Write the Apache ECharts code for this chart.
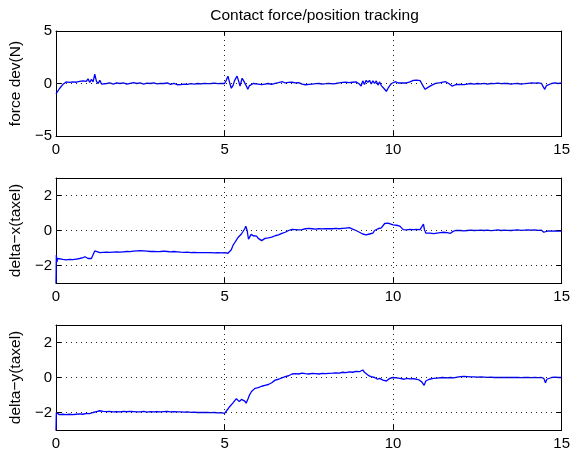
<!DOCTYPE html>
<html>
<head>
<meta charset="utf-8">
<script src="https://cdn.jsdelivr.net/npm/echarts@6/dist/echarts.min.js"></script>
<style>
html,body{margin:0;padding:0;background:#fff;}
#c{width:573px;height:459px;}
</style>
</head>
<body>
<div id="c"></div>
<script>
const titleText = 'Contact force/position tracking';
const yNames = ['force dev(N)', 'delta\u2212x(taxel)', 'delta\u2212y(taxel)'];
const xTicks = [0, 5, 10, 15];
const yLimits = [[-5, 5], [-3, 3], [-3, 3]];
const yTicks = [[-5, 0, 5], [-2, 0, 2], [-2, 0, 2]];

const forceDev = [
[0,-1.0],[0.05,-0.9],[0.1,-0.5],[0.15,-0.6],[0.2,-0.1],[0.25,0.05],[0.3,0.15],[0.4,0.1],[0.5,0.15],[0.6,0.12],
[0.7,0.2],[0.75,0.35],[0.8,0.25],[0.85,0.4],[0.9,0.2],[0.95,0.45],[1.0,0.1],[1.05,0.4],[1.1,0.15],[1.15,0.9],
[1.2,0.2],[1.25,0.0],[1.3,0.3],[1.35,-0.05],[1.4,0.1],[1.5,0.0],[1.6,0.05],[1.7,-0.05],[1.8,0.05],[1.9,0.0],
[2.0,0.05],[2.1,-0.05],[2.2,0.02],[2.3,0.08],[2.4,0.0],[2.5,0.05],[2.6,-0.05],[2.7,0.03],[2.8,0.0],[2.9,0.06],
[3.0,-0.03],[3.1,0.02],[3.2,0.0],[3.3,0.05],[3.4,-0.08],[3.5,0.02],[3.6,-0.12],[3.7,-0.1],[3.8,-0.05],[3.9,-0.08],
[4.0,-0.02],[4.1,-0.05],[4.2,0.0],[4.3,-0.03],[4.4,0.02],[4.5,-0.02],[4.6,0.0],[4.7,0.03],[4.8,-0.02],[4.9,0.0],
[5.0,0.0],[5.05,0.3],[5.1,0.7],[5.15,0.1],[5.2,-0.45],[5.25,-0.2],[5.3,0.3],[5.37,0.7],[5.42,0.2],[5.46,-0.25],
[5.52,0.5],[5.56,0.3],[5.6,0.15],[5.64,-0.2],[5.69,-0.55],[5.74,-0.2],[5.79,-0.05],[5.85,0.0],[5.9,-0.05],[6.0,-0.05],
[6.1,-0.1],[6.2,-0.05],[6.3,0.0],[6.4,-0.08],[6.5,0.02],[6.6,0.08],[6.65,-0.02],[6.72,0.17],[6.8,0.05],[6.9,0.1],
[7.0,0.12],[7.1,0.05],[7.2,0.08],[7.3,-0.05],[7.4,-0.12],[7.5,-0.08],[7.6,-0.05],[7.7,-0.02],[7.8,0.0],[7.9,-0.05],
[8.0,-0.02],[8.1,0.02],[8.2,-0.04],[8.3,0.0],[8.4,0.05],[8.5,0.1],[8.6,0.12],[8.7,0.08],[8.8,0.12],[8.9,0.15],
[9.0,-0.05],[9.05,-0.25],[9.1,0.25],[9.15,-0.1],[9.2,0.3],[9.25,0.1],[9.3,0.3],[9.35,-0.05],[9.4,0.25],[9.45,0.0],
[9.5,0.25],[9.55,-0.15],[9.6,0.15],[9.65,-0.2],[9.7,-0.35],[9.75,-0.55],[9.8,-0.75],[9.85,-0.45],[9.9,-0.2],[9.95,0.0],
[10.0,0.1],[10.08,0.17],[10.15,0.05],[10.2,0.15],[10.3,0.05],[10.4,0.05],[10.5,0.15],[10.6,0.3],[10.7,0.33],[10.8,0.28],
[10.85,0.1],[10.9,-0.3],[10.95,-0.55],[11.0,-0.6],[11.07,-0.3],[11.15,-0.15],[11.26,0.02],[11.4,0.08],[11.56,0.17],[11.65,0.0],
[11.75,-0.24],[11.85,-0.12],[11.95,-0.08],[12.0,-0.05],[12.1,-0.1],[12.2,-0.05],[12.3,0.0],[12.4,-0.05],[12.5,0.0],[12.6,-0.03],
[12.7,0.02],[12.8,-0.05],[12.9,0.0],[13.0,-0.02],[13.1,0.03],[13.2,-0.02],[13.3,0.02],[13.4,0.0],[13.5,-0.05],[13.6,-0.02],
[13.7,0.0],[13.8,-0.05],[13.9,-0.02],[14.0,0.02],[14.1,0.05],[14.2,0.03],[14.3,0.05],[14.4,0.02],[14.45,-0.3],[14.5,-0.55],
[14.55,-0.2],[14.6,-0.05],[14.7,0.0],[14.8,0.05],[14.9,0.0],[15.0,0.05]
];

const deltaX = [
[0,-3.0],[0.01,-1.4],[0.03,-1.8],[0.05,-1.6],[0.1,-1.7],[0.2,-1.65],[0.3,-1.68],[0.4,-1.65],[0.5,-1.66],[0.6,-1.63],
[0.7,-1.6],[0.8,-1.55],[0.86,-1.5],[0.9,-1.58],[0.95,-1.6],[1.0,-1.55],[1.05,-1.6],[1.1,-1.5],[1.15,-1.17],[1.2,-1.2],
[1.3,-1.27],[1.4,-1.25],[1.5,-1.24],[1.6,-1.25],[1.7,-1.23],[1.8,-1.22],[1.9,-1.24],[2.0,-1.22],[2.1,-1.2],[2.2,-1.21],
[2.3,-1.18],[2.4,-1.16],[2.5,-1.15],[2.6,-1.16],[2.7,-1.18],[2.8,-1.2],[2.9,-1.19],[3.0,-1.21],[3.1,-1.2],[3.2,-1.18],
[3.3,-1.2],[3.4,-1.22],[3.5,-1.2],[3.6,-1.22],[3.7,-1.24],[3.8,-1.25],[3.9,-1.24],[4.0,-1.26],[4.1,-1.25],[4.2,-1.27],
[4.3,-1.26],[4.4,-1.27],[4.5,-1.26],[4.6,-1.27],[4.7,-1.28],[4.8,-1.27],[4.9,-1.28],[5.0,-1.27],[5.1,-1.3],[5.15,-1.38],
[5.2,-1.1],[5.25,-0.85],[5.3,-0.7],[5.35,-0.55],[5.4,-0.4],[5.45,-0.35],[5.5,-0.2],[5.55,-0.1],[5.6,0.1],[5.63,0.25],
[5.67,0.0],[5.71,-0.5],[5.75,-0.35],[5.79,-0.22],[5.85,-0.3],[5.9,-0.28],[5.95,-0.32],[6.0,-0.45],[6.05,-0.52],[6.1,-0.58],
[6.15,-0.5],[6.2,-0.45],[6.3,-0.42],[6.4,-0.38],[6.5,-0.3],[6.6,-0.25],[6.7,-0.16],[6.8,-0.1],[6.9,0.0],[7.0,0.07],
[7.1,0.05],[7.2,0.03],[7.3,0.05],[7.4,0.1],[7.5,0.12],[7.6,0.1],[7.7,0.08],[7.8,0.1],[7.9,0.09],[8.0,0.1],
[8.1,0.11],[8.2,0.1],[8.3,0.12],[8.4,0.1],[8.5,0.12],[8.6,0.14],[8.7,0.16],[8.8,0.08],[8.9,0.0],[9.0,-0.1],
[9.1,-0.2],[9.2,-0.25],[9.3,-0.2],[9.4,-0.15],[9.45,0.0],[9.5,0.05],[9.55,0.1],[9.6,0.05],[9.65,0.15],[9.7,0.25],
[9.75,0.4],[9.8,0.5],[9.85,0.42],[9.9,0.35],[10.0,0.32],[10.1,0.3],[10.2,0.25],[10.25,0.2],[10.3,0.05],[10.4,0.04],
[10.5,0.06],[10.6,0.05],[10.7,0.07],[10.8,0.05],[10.85,0.1],[10.9,0.37],[10.93,0.05],[10.97,-0.15],[11.0,-0.2],[11.1,-0.15],
[11.2,-0.18],[11.3,-0.15],[11.4,-0.12],[11.5,-0.1],[11.6,-0.12],[11.7,-0.16],[11.78,-0.05],[11.85,0.0],[11.9,0.03],[12.0,0.0],
[12.1,-0.02],[12.2,0.0],[12.3,0.02],[12.4,0.0],[12.5,0.01],[12.6,0.02],[12.7,0.0],[12.8,0.02],[12.9,-0.01],[13.0,0.01],
[13.1,0.03],[13.2,0.0],[13.3,0.02],[13.4,0.01],[13.5,0.0],[13.6,0.02],[13.7,0.03],[13.8,0.01],[13.9,0.02],[14.0,0.03],
[14.1,0.02],[14.2,0.03],[14.3,0.01],[14.4,0.02],[14.47,-0.1],[14.5,0.0],[14.6,-0.02],[14.7,-0.03],[14.8,-0.02],[14.9,-0.04],
[15.0,-0.03]
];

const deltaY = [
[0,-3.0],[0.01,-2.0],[0.05,-2.1],[0.1,-2.12],[0.2,-2.1],[0.3,-2.12],[0.4,-2.1],[0.5,-2.12],[0.6,-2.1],[0.7,-2.08],
[0.8,-2.1],[0.9,-2.05],[1.0,-2.07],[1.1,-2.0],[1.2,-1.95],[1.3,-1.9],[1.4,-1.93],[1.5,-1.95],[1.6,-1.94],[1.7,-1.96],
[1.8,-1.95],[1.9,-1.96],[2.0,-1.94],[2.1,-1.95],[2.2,-1.93],[2.3,-1.95],[2.4,-1.97],[2.5,-1.96],[2.6,-1.94],[2.7,-1.98],
[2.8,-1.95],[2.9,-1.97],[3.0,-1.95],[3.1,-1.96],[3.2,-1.95],[3.3,-1.94],[3.4,-1.96],[3.5,-1.95],[3.6,-1.97],[3.7,-1.96],
[3.8,-1.98],[3.9,-1.97],[4.0,-1.99],[4.1,-1.98],[4.2,-2.0],[4.3,-1.99],[4.4,-2.0],[4.5,-2.0],[4.6,-2.01],[4.7,-2.0],
[4.8,-2.02],[4.9,-2.01],[5.0,-2.05],[5.05,-1.95],[5.1,-1.8],[5.15,-1.67],[5.2,-1.6],[5.25,-1.45],[5.3,-1.35],[5.35,-1.21],
[5.4,-1.3],[5.44,-1.38],[5.5,-1.25],[5.54,-1.2],[5.6,-1.35],[5.64,-1.47],[5.7,-1.2],[5.74,-1.0],[5.8,-0.8],[5.85,-0.7],
[5.9,-0.62],[6.0,-0.58],[6.1,-0.5],[6.2,-0.45],[6.3,-0.4],[6.4,-0.3],[6.5,-0.15],[6.6,-0.1],[6.7,-0.02],[6.8,0.05],
[6.9,0.1],[7.0,0.2],[7.1,0.22],[7.2,0.2],[7.3,0.25],[7.4,0.22],[7.5,0.2],[7.6,0.24],[7.7,0.22],[7.8,0.2],
[7.9,0.23],[8.0,0.22],[8.1,0.24],[8.2,0.25],[8.3,0.27],[8.4,0.25],[8.5,0.3],[8.6,0.28],[8.7,0.32],[8.8,0.3],
[8.9,0.35],[9.0,0.33],[9.05,0.38],[9.1,0.43],[9.15,0.3],[9.2,0.25],[9.29,0.09],[9.35,0.05],[9.45,0.0],[9.54,-0.1],
[9.6,-0.05],[9.7,-0.15],[9.8,-0.2],[9.85,-0.12],[9.9,-0.05],[10.0,0.0],[10.1,-0.02],[10.2,-0.05],[10.33,-0.1],[10.4,-0.05],
[10.5,-0.08],[10.6,-0.06],[10.7,-0.1],[10.77,-0.14],[10.85,-0.25],[10.92,-0.45],[10.97,-0.2],[11.07,-0.1],[11.2,-0.05],[11.3,-0.03],
[11.46,0.0],[11.6,-0.02],[11.7,0.0],[11.8,-0.02],[11.9,0.02],[12.0,0.05],[12.1,0.07],[12.2,0.05],[12.3,0.03],[12.4,0.04],
[12.5,0.02],[12.6,0.03],[12.7,0.02],[12.8,0.01],[12.9,0.02],[13.0,0.0],[13.1,0.01],[13.2,0.0],[13.3,0.01],[13.4,0.0],
[13.5,0.01],[13.6,0.0],[13.7,0.0],[13.8,-0.01],[13.9,0.0],[14.0,0.0],[14.1,-0.01],[14.2,0.0],[14.3,-0.01],[14.4,0.0],
[14.47,-0.05],[14.52,-0.3],[14.56,-0.1],[14.6,-0.05],[14.7,0.0],[14.8,0.02],[14.9,0.0],[15.0,0.0]
];

const seriesData = [forceDev, deltaX, deltaY];
const FONT = 'Liberation Sans';
const gridTops = [31, 178, 325];
const minusFmt = v => String(v).replace('-', '\u2212');
const dotted = { color: '#222', width: 1, type: [1, 4] };
const blackLine = { show: true, onZero: false, lineStyle: { color: '#000', width: 1 } };
const mkTick = vals => ({ show: true, inside: true, length: 5, customValues: vals, lineStyle: { color: '#000', width: 1 } });

const grids = [], xAxes = [], yAxes = [], series = [];
gridTops.forEach((top, i) => {
  grids.push({ left: 56, right: 10, top: top, height: 105, containLabel: false });
  const xmin = xTicks[0], xmax = xTicks[xTicks.length - 1];
  const lim = yLimits[i], yt = yTicks[i];
  xAxes.push({
    type: 'value', gridIndex: i, min: xmin, max: xmax, position: 'bottom',
    axisLine: blackLine, axisTick: mkTick(xTicks),
    axisLabel: { show: true, customValues: xTicks, margin: 6, color: '#000', fontFamily: FONT, fontSize: 15, formatter: minusFmt },
    splitLine: { show: false }
  });
  xAxes.push({
    type: 'value', gridIndex: i, min: xmin, max: xmax, position: 'top',
    axisLine: blackLine, axisTick: mkTick(xTicks), axisLabel: { show: false }, splitLine: { show: false }
  });
  yAxes.push({
    type: 'value', gridIndex: i, min: lim[0], max: lim[1], position: 'left',
    name: yNames[i], nameLocation: 'middle', nameGap: 31, nameRotate: 90,
    nameTextStyle: { color: '#000', fontFamily: FONT, fontSize: 15.5 },
    axisLine: blackLine, axisTick: mkTick(yt),
    axisLabel: { show: true, customValues: yt, margin: 4, color: '#000', fontFamily: FONT, fontSize: 15, formatter: minusFmt },
    splitLine: { show: false }
  });
  yAxes.push({
    type: 'value', gridIndex: i, min: lim[0], max: lim[1], position: 'right',
    axisLine: blackLine, axisTick: mkTick(yt), axisLabel: { show: false }, splitLine: { show: false }
  });
  // dotted grid lines at interior tick positions
  const gl = [];
  xTicks.filter(v => v > xmin && v < xmax).forEach(v => gl.push({ xAxis: v }));
  yt.filter(v => v > lim[0] && v < lim[1]).forEach(v => gl.push({ yAxis: v }));
  series.push({
    type: 'line', xAxisIndex: i * 2, yAxisIndex: i * 2, data: [], silent: true,
    markLine: { silent: true, symbol: 'none', label: { show: false }, animation: false,
      lineStyle: dotted, emphasis: { disabled: true }, data: gl }
  });
  series.push({
    type: 'line', xAxisIndex: i * 2, yAxisIndex: i * 2, data: seriesData[i],
    showSymbol: false, symbol: 'none', smooth: false, clip: true, z: 3,
    lineStyle: { color: '#0000ff', width: 1.3 }
  });
});

const chart = echarts.init(document.getElementById('c'), null, { renderer: 'canvas' });
chart.setOption({
  animation: false,
  backgroundColor: '#fff',
  title: { text: titleText, left: 309.5, textAlign: 'center', top: 3,
    textStyle: { color: '#000', fontFamily: FONT, fontSize: 15.5, fontWeight: 'normal' } },
  grid: grids, xAxis: xAxes, yAxis: yAxes, series: series
});
</script>
</body>
</html>
